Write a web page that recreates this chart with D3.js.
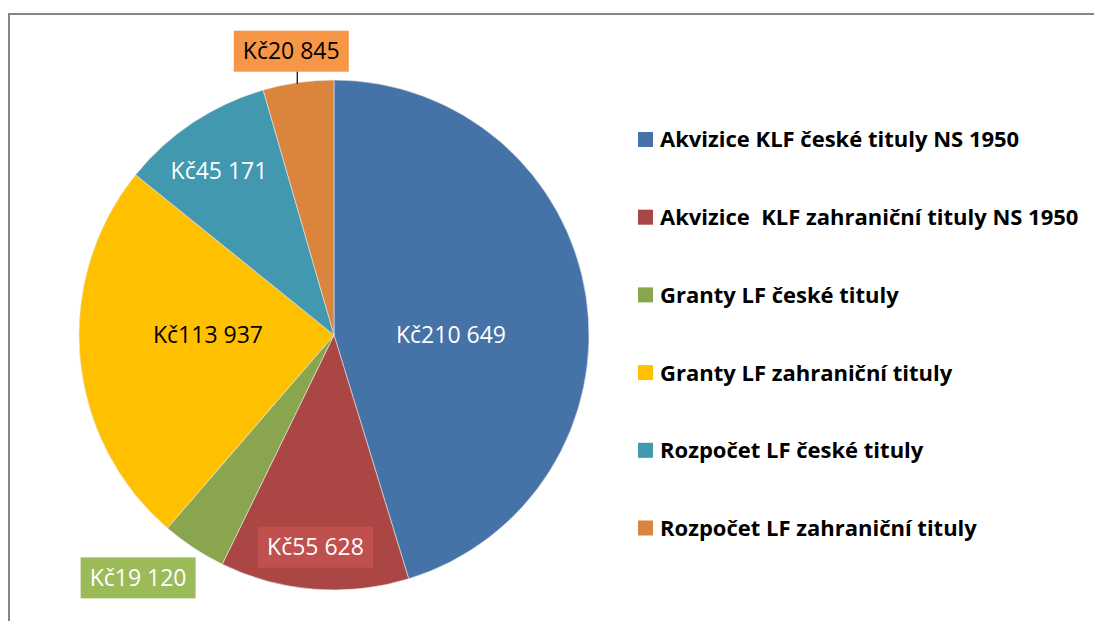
<html>
  <head>
    <script src="https://cdn.jsdelivr.net/npm/d3@7/dist/d3.min.js"></script>
    <style>
      * {
        margin: 0;
        padding: 0;
      }
      body {
        background: white;
        font-family: "Open Sans", sans-serif;
      }
    </style>
  </head>
  <body>
    <div id="chart"></div>
    <script>
      const categories = [
        "Akvizice KLF české tituly NS 1950",
        "Akvizice  KLF zahraniční tituly NS 1950",
        "Granty LF české tituly",
        "Granty LF zahraniční tituly",
        "Rozpočet LF české tituly",
        "Rozpočet LF zahraniční tituly",
      ];
      const values = [210649, 55628, 19120, 113937, 45171, 20845];
      const colors = ["#4572A7", "#AA4643", "#89A54E", "#FFC000", "#4198AF", "#DB843D"];

      // label placement: radius from centre, angle nudge (deg), box fill, text colour
      const labelRadius = [117, 213, 312, 126, 200, 287];
      const labelNudge = [8.5, 0.5, 5.5, 5, -1.5, -0.5];
      const labelBox = [null, "#C0504D", "#9BBB59", null, null, "#F79646"];
      const labelInk = ["white", "white", "white", "black", "white", "black"];

      const w = 1094;
      const h = 621;
      const cx = 334;
      const cy = 335;
      const r = 255;

      const fmt = (v) => "Kč" + d3.format(",")(v).replace(/,/g, " ");

      const svg = d3
        .select("#chart")
        .append("svg")
        .attr("width", w)
        .attr("height", h);

      // frame
      svg
        .append("rect")
        .attr("x", 9)
        .attr("y", 14)
        .attr("width", w)
        .attr("height", h)
        .attr("fill", "none")
        .attr("stroke", "#868686")
        .attr("stroke-width", 2);

      const pie = d3.pie().sort(null).value((d) => d);
      const arcs = pie(values);
      const arc = d3.arc().innerRadius(0).outerRadius(r);

      const g = svg.append("g").attr("transform", `translate(${cx},${cy})`);

      g.selectAll("path")
        .data(arcs)
        .enter()
        .append("path")
        .attr("d", arc)
        .attr("fill", (d, i) => colors[i])
        .attr("stroke", "#e8e8e8")
        .attr("stroke-width", 0.6);

      const labels = g
        .selectAll("g.lbl")
        .data(arcs)
        .enter()
        .append("g")
        .attr("class", "lbl")
        .attr("transform", (d, i) => {
          const a = (d.startAngle + d.endAngle) / 2 + (labelNudge[i] * Math.PI) / 180;
          const x = labelRadius[i] * Math.sin(a);
          const y = -labelRadius[i] * Math.cos(a);
          return `translate(${x},${y})`;
        });

      labels.each(function (d, i) {
        const sel = d3.select(this);
        sel
          .append("text")
          .attr("text-anchor", "middle")
          .attr("dy", "0.34em")
          .attr("font-size", 23)
          .attr("fill", labelInk[i])
          .text(fmt(values[i]));
        if (labelBox[i]) {
          sel
            .insert("rect", "text")
            .attr("x", -57.5)
            .attr("y", -20.5)
            .attr("width", 115)
            .attr("height", 41)
            .attr("fill", labelBox[i]);
        }
      });

      // leader line for the small orange slice
      const last = arcs.length - 1;
      {
        const a = (arcs[last].startAngle + arcs[last].endAngle) / 2 + (labelNudge[last] * Math.PI) / 180;
        const lx = labelRadius[last] * Math.sin(a) + 6;
        const ly = -labelRadius[last] * Math.cos(a) + 20.5;
        const ey = -Math.sqrt(r * r - lx * lx);
        g.append("line")
          .attr("x1", lx)
          .attr("x2", lx)
          .attr("y1", ly)
          .attr("y2", ey + 1)
          .attr("stroke", "black")
          .attr("stroke-width", 1.2);
      }

      // legend
      const legendY = d3
        .scalePoint()
        .domain(categories)
        .range([139.5, 528]);

      const legend = svg
        .append("g")
        .selectAll("g")
        .data(categories)
        .enter()
        .append("g")
        .attr("transform", (d) => `translate(638,${legendY(d)})`);

      legend
        .append("rect")
        .attr("x", 0)
        .attr("y", -7.5)
        .attr("width", 15)
        .attr("height", 15)
        .attr("fill", (d, i) => colors[i]);

      legend
        .append("text")
        .attr("x", 22)
        .attr("dy", "0.36em")
        .attr("font-size", 22)
        .attr("font-weight", "bold")
        .attr("fill", "black")
        .style("white-space", "pre")
        .text((d) => d);
    </script>
  </body>
</html>
